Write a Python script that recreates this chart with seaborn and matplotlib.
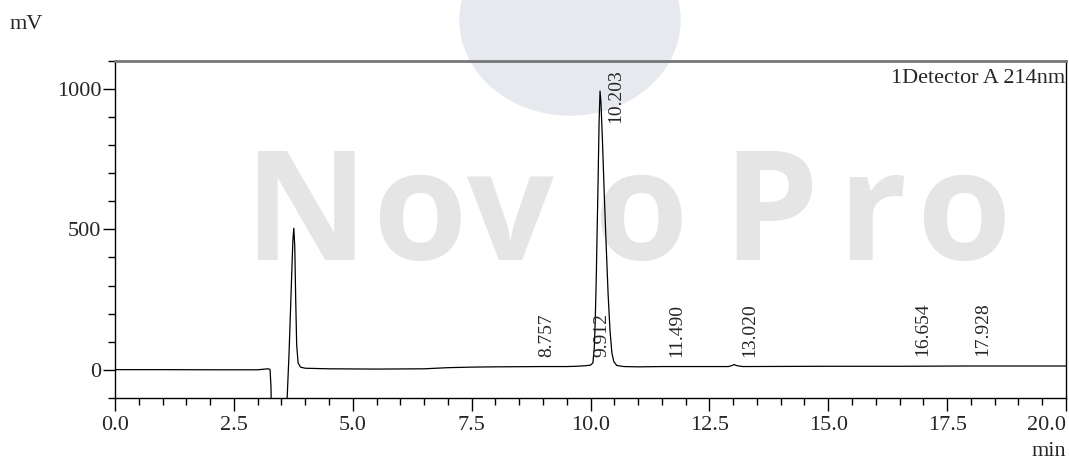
import numpy as np
import pandas as pd
import matplotlib
matplotlib.use("Agg")
import matplotlib.pyplot as plt
from matplotlib.patches import Ellipse
import seaborn as sns

# trace (min, mV)
time_min = [0.0, 1.0, 2.0, 3.0, 3.15, 3.22, 3.26, 3.28, 3.30, 3.60, 3.62, 3.66, 3.70,
            3.74, 3.76, 3.78, 3.80, 3.82, 3.85, 3.90, 4.0, 4.5, 5.5, 6.5, 7.0, 7.5,
            8.0, 9.0, 9.5, 9.7, 9.8, 9.9, 10.0, 10.05, 10.08, 10.10, 10.12, 10.14,
            10.16, 10.18, 10.20, 10.22, 10.25, 10.29, 10.33, 10.37, 10.41, 10.45,
            10.49, 10.55, 10.7, 11.0, 11.5, 12.9, 12.98, 13.02, 13.08, 13.2, 15.0,
            16.6, 17.9, 20.0]
signal_mv = [1, 1, 0.5, 0.5, 3, 4, 2, -60, -300, -300, -100, 60, 260,
             460, 504, 440, 250, 90, 25, 10, 6, 4, 3, 4, 8, 10,
             11, 12, 12, 13, 14, 15, 17, 25, 80, 180, 320, 500,
             680, 880, 992, 950, 820, 620, 440, 270, 140, 60,
             30, 16, 12, 11, 12, 12, 16, 19, 15, 12, 13,
             13, 14, 14]

peak_rt = [8.757, 9.912, 10.203, 11.490, 13.020, 16.654, 17.928]
peak_labels = ["8.757", "9.912", "10.203", "11.490", "13.020", "16.654", "17.928"]
label_y = [45, 45, 880, 45, 45, 48, 48]

x_ticks = [0.0, 2.5, 5.0, 7.5, 10.0, 12.5, 15.0, 17.5, 20.0]
y_ticks = [0, 500, 1000]

# watermark letters and their centres (figure pixels)
wm_letters = ["N", "o", "v", "o", "P", "r", "o"]
wm_x_px = [305, 419, 510, 640, 770, 872, 963]

df = pd.DataFrame({"time": time_min, "mV": signal_mv})

sns.set_style("ticks")
plt.rcParams["font.family"] = ["Liberation Serif", "DejaVu Serif"]

W, H = 1069, 465
fig = plt.figure(figsize=(W / 100, H / 100), dpi=100)
ax = fig.add_axes([0.1076, 0.144, 0.8896, 0.7255])
ax.set_facecolor("none")

# watermark behind the plot
fig.patches.append(Ellipse((570 / W, 1 - 20 / H), 220 / W, 190 / H,
                           transform=fig.transFigure, color="#e6e9ee", zorder=-5))
for ch, xp in zip(wm_letters, wm_x_px):
    fig.text(xp / W, 1 - 260 / H, ch, fontsize=110, fontweight="bold",
             family="Open Sans", color="#e5e5e5", ha="center", va="baseline",
             zorder=-4)

sns.lineplot(data=df, x="time", y="mV", ax=ax, color="black", linewidth=0.9,
             estimator=None, sort=False)

ax.set_xlim(0, 20)
ax.set_ylim(-100, 1100)
ax.set_xticks(x_ticks)
ax.set_xticklabels([f"{t:.1f}" for t in x_ticks])
ax.get_xticklabels()[-1].set_ha("right")
ax.set_xticks(np.arange(0, 20.01, 0.5), minor=True)
ax.set_yticks(y_ticks)
ax.set_yticks(np.arange(-100, 1101, 100), minor=True)
ax.set_xlabel("")
ax.set_ylabel("")

ax.tick_params(axis="both", which="major", direction="out", length=9, width=1.0,
               labelsize=16, color="black")
ax.tick_params(axis="both", which="minor", direction="out", length=5, width=1.0,
               color="black")
ax.tick_params(axis="y", which="major", pad=1)
ax.tick_params(axis="x", which="major", pad=4)

for side in ["left", "bottom", "right"]:
    ax.spines[side].set_visible(True)
    ax.spines[side].set_color("black")
    ax.spines[side].set_linewidth(1.0)
ax.spines["top"].set_visible(True)
ax.spines["top"].set_color("#777777")
ax.spines["top"].set_linewidth(2.0)

for rt, lab, ly in zip(peak_rt, peak_labels, label_y):
    ax.text(rt + 0.33, ly, lab, rotation=90, fontsize=14, ha="center", va="bottom")

ax.text(0.999, 0.975, "1Detector A 214nm", transform=ax.transAxes, fontsize=16,
        ha="right", va="top")
fig.text(0.009, 0.948, "mV", fontsize=16, ha="left", va="center")
fig.text(0.997, 0.03, "min", fontsize=16, ha="right", va="center")

fig.savefig("out.png", dpi=100)
